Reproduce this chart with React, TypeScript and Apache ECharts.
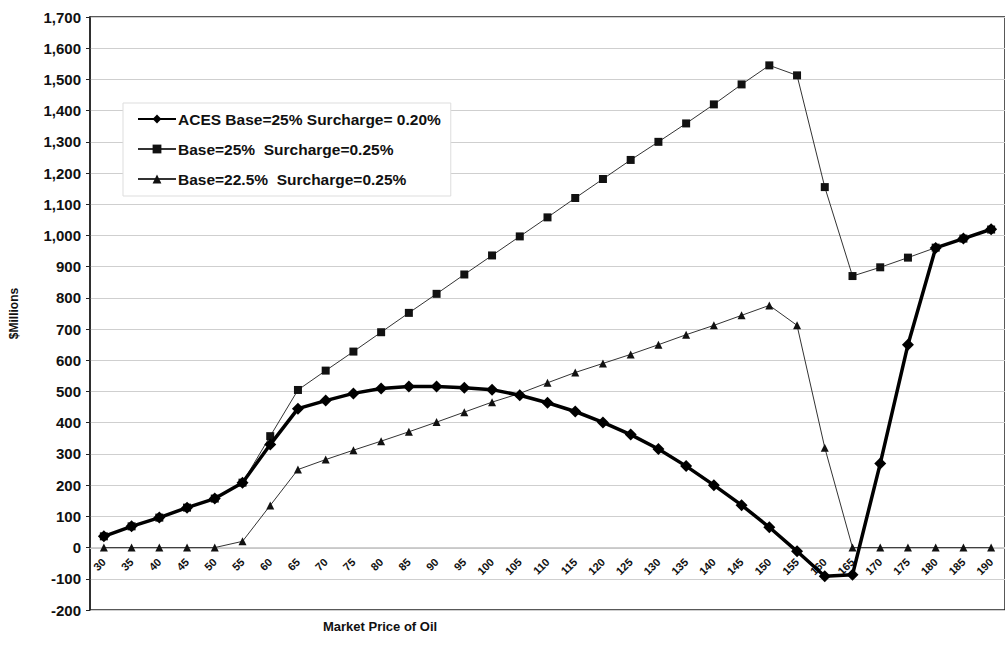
import React, { useEffect, useRef } from "react";
import * as echarts from "echarts";

const categories = ["30","35","40","45","50","55","60","65","70","75","80","85","90","95","100","105","110","115","120","125","130","135","140","145","150","155","160","165","170","175","180","185","190"];

const acesValues = [36, 68, 96, 128, 157, 208, 330, 445, 471, 494, 510, 516, 516, 512, 506, 488, 464, 436, 401, 362, 316, 261, 200, 136, 65, -12, -92, -87, 269, 650, 960, 990, 1020];

const base25Values = [36, 68, 96, 128, 157, 208, 357, 505, 567, 628, 690, 752, 813, 875, 936, 997, 1058, 1120, 1181, 1242, 1300, 1359, 1420, 1484, 1545, 1513, 1155, 870, 898, 929, 961, 990, 1019];

const base225Values = [0, 0, 0, 0, 0, 20, 135, 250, 282, 312, 341, 371, 402, 434, 466, 494, 528, 561, 590, 619, 650, 682, 712, 744, 776, 712, 320, 0, 0, 0, 0, 0, 0];

const seriesNames = [
  "ACES Base=25% Surcharge= 0.20%",
  "Base=25%  Surcharge=0.25%",
  "Base=22.5%  Surcharge=0.25%",
];

const yTickLabels = (v: number) => v.toLocaleString("en-US");

export default function App() {
  const ref = useRef<HTMLDivElement>(null);
  useEffect(() => {
    if (!ref.current) return;
    const chart = echarts.init(ref.current, null, { renderer: "svg" });
    const font = "Arial, 'Liberation Sans', sans-serif";
    chart.setOption({
      animation: false,
      backgroundColor: "#ffffff",
      textStyle: { fontFamily: font },
      grid: {
        left: 90,
        top: 17,
        right: -12,
        bottom: 35,
        show: true,
        borderColor: "#222",
        borderWidth: 1.5,
        backgroundColor: "transparent",
      },
      legend: {
        data: seriesNames,
        orient: "vertical",
        left: 123,
        top: 103,
        itemWidth: 38,
        itemHeight: 11,
        itemGap: 14,
        padding: [8, 10, 9, 14],
        backgroundColor: "#ffffff",
        borderColor: "#dddddd",
        borderWidth: 1,
        textStyle: { fontFamily: font, fontSize: 15.5, fontWeight: "bold", color: "#111", padding: [0, 0, 0, -3] },
      },
      xAxis: {
        type: "category",
        data: categories,
        boundaryGap: true,
        position: "bottom",
        offset: -62,
        axisLine: { onZero: false, lineStyle: { color: "#c8c8c8", width: 1 } },
        axisTick: { show: false },
        axisLabel: {
          rotate: 45,
          interval: 0,
          fontSize: 11,
          fontWeight: "bold",
          color: "#111",
          margin: 12,
          fontFamily: font,
        },
        splitLine: { show: false },
      },
      yAxis: {
        type: "value",
        min: -200,
        max: 1700,
        interval: 100,
        name: "$Millions",
        nameLocation: "middle",
        nameRotate: 90,
        nameGap: 70,
        nameTextStyle: { fontFamily: font, fontSize: 12, fontWeight: "bold", color: "#111" },
        axisLine: { show: true, lineStyle: { color: "#222", width: 1.5 } },
        axisTick: { show: true, length: 4, lineStyle: { color: "#222" } },
        axisLabel: {
          formatter: yTickLabels,
          fontSize: 15,
          fontWeight: "bold",
          color: "#111",
          margin: 9,
          fontFamily: font,
        },
        splitLine: { show: true, lineStyle: { color: "#cfcfcf", width: 1.2 } },
      },
      graphic: [
        {
          type: "text",
          left: 383 - 60,
          top: 620,
          style: {
            text: "Market Price of Oil",
            fontFamily: font,
            fontSize: 13,
            fontWeight: "bold",
            fill: "#111",
          },
        },
      ],
      series: [
        {
          name: seriesNames[1],
          type: "line",
          data: base25Values,
          symbol: "rect",
          symbolSize: 8,
          itemStyle: { color: "#111" },
          lineStyle: { color: "#333", width: 1 },
          z: 2,
        },
        {
          name: seriesNames[2],
          type: "line",
          data: base225Values,
          symbol: "triangle",
          symbolSize: 8,
          itemStyle: { color: "#111" },
          lineStyle: { color: "#333", width: 1 },
          z: 2,
        },
        {
          name: seriesNames[0],
          type: "line",
          data: acesValues,
          symbol: "diamond",
          symbolSize: 12,
          itemStyle: { color: "#000" },
          lineStyle: { color: "#000", width: 3.5 },
          z: 3,
        },
      ],
    });
    return () => chart.dispose();
  }, []);
  return (
    <div
      ref={ref}
      style={{ position: "absolute", left: 0, top: 0, width: 1005, height: 645, background: "#fff" }}
    />
  );
}
